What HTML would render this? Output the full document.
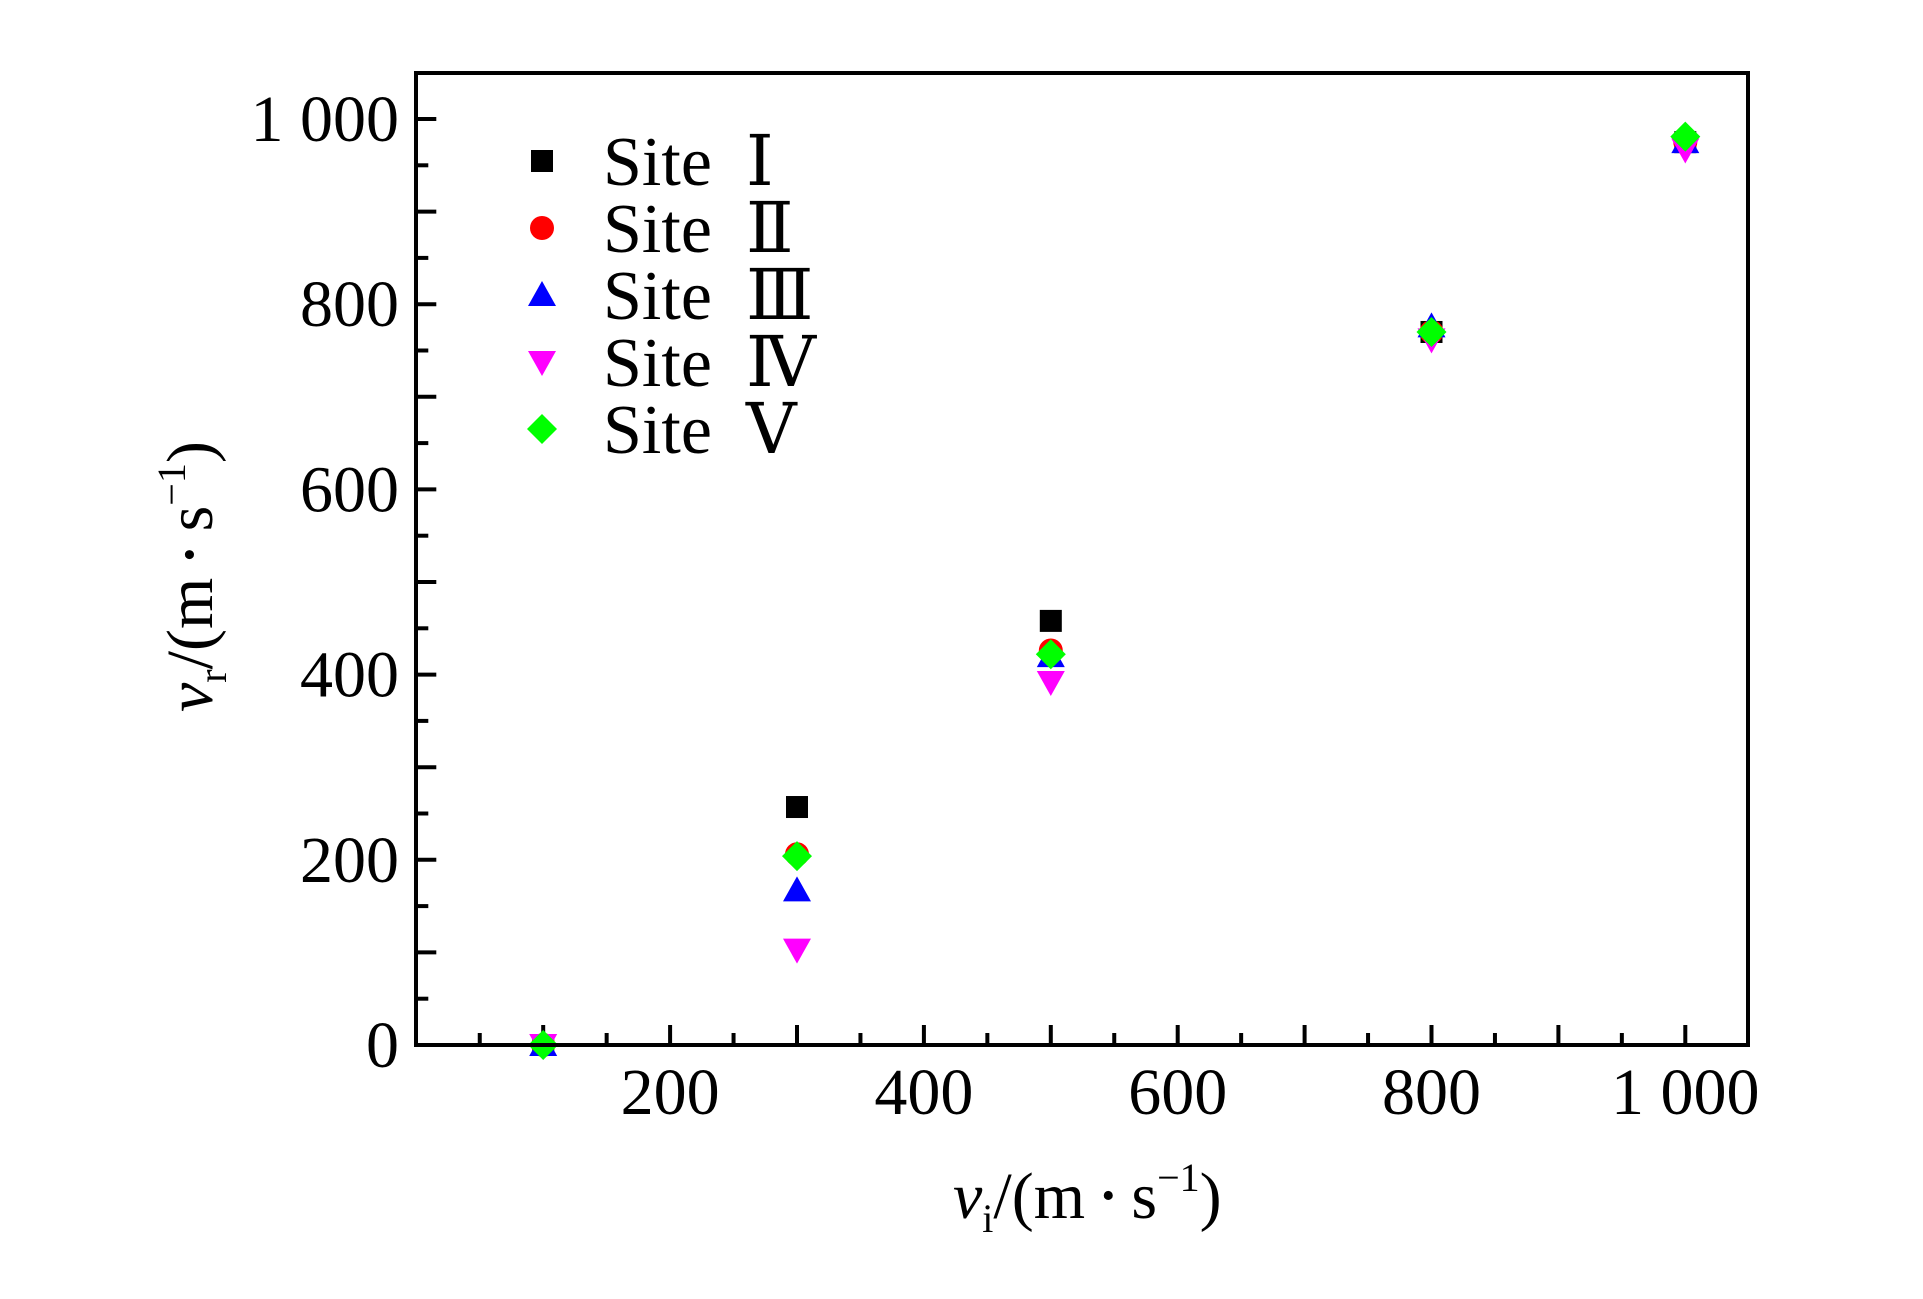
<!DOCTYPE html>
<html><head><meta charset="utf-8"><style>
html,body{margin:0;padding:0;background:#fff;}
svg{display:block;}
text{font-family:"Liberation Serif","DejaVu Serif",serif;fill:#000;}
</style></head><body>
<svg id="chart" width="1923" height="1299" viewBox="0 0 1923 1299" xmlns="http://www.w3.org/2000/svg">
<g id="ticks"></g>
<g id="marks"></g>
<rect x="416" y="73" width="1332" height="972" fill="none" stroke="#000" stroke-width="4"/>
<g id="legend"></g>
<text x="953" y="1218" font-size="66" xml:space="preserve"><tspan font-style="italic">v</tspan><tspan font-size="40" dy="14">i</tspan><tspan dy="-14">/(m </tspan><tspan font-size="38" dy="-10">•</tspan><tspan dy="10"> s</tspan><tspan font-size="40" dy="-27">−1</tspan><tspan dy="27">)</tspan></text>
<text transform="translate(212,712) rotate(-90)" x="0" y="0" font-size="66" xml:space="preserve"><tspan font-style="italic">v</tspan><tspan font-size="40" dy="14">r</tspan><tspan dy="-14">/(m </tspan><tspan font-size="38" dy="-10">•</tspan><tspan dy="10"> s</tspan><tspan font-size="40" dy="-27">−1</tspan><tspan dy="27">)</tspan></text>
</svg>
<script>
const xCategories = [100, 300, 500, 800, 1000];
const siteI = [0, 257, 458, 770, 975];
const siteII = [0, 206, 426, 770, 975];
const siteIII = [0, 167, 420, 776, 975];
const siteIV = [0, 103, 392, 762, 967];
const siteV = [0, 204, 422, 770, 981];
const xTickLabels = ["200", "400", "600", "800", "1 000"];
const yTickLabels = ["0", "200", "400", "600", "800", "1 000"];
const seriesNames = ["Site", "Site", "Site", "Site", "Site"];
const seriesNumerals = ["Ⅰ", "Ⅱ", "Ⅲ", "Ⅳ", "Ⅴ"];

const NS = "http://www.w3.org/2000/svg";
const X0 = 416.3, XS = 1.269, Y0 = 1045, YS = 0.926;
const xs = v => X0 + v * XS;
const ys = v => Y0 - v * YS;
function mk(tag, attrs, parent) {
  const e = document.createElementNS(NS, tag);
  for (const k in attrs) e.setAttribute(k, attrs[k]);
  parent.appendChild(e);
  return e;
}
const ticks = document.getElementById('ticks');
for (let v = 50; v <= 1000; v += 50) {
  const major = v % 100 === 0;
  const len = major ? 20 : 12;
  const t = mk('line', {x1: xs(v), x2: xs(v), y1: Y0, y2: Y0 - len, stroke: '#000', 'stroke-width': 4}, ticks);
  
  
  const u = mk('line', {x1: X0, x2: X0 + len, y1: ys(v), y2: ys(v), stroke: '#000', 'stroke-width': 4}, ticks);
  
  
}
xTickLabels.forEach((lab, i) => {
  const v = 200 * (i + 1);
  const t = mk('text', {x: xs(v), y: 1114, 'font-size': 66, 'text-anchor': 'middle'}, ticks);
  t.setAttribute('xml:space', 'preserve');
  t.textContent = lab;
  
  
});
yTickLabels.forEach((lab, i) => {
  const v = 200 * i;
  const t = mk('text', {x: 399, y: ys(v) + 22, 'font-size': 66, 'text-anchor': 'end'}, ticks);
  t.setAttribute('xml:space', 'preserve');
  t.textContent = lab;
  
  
});

function marker(shape, cx, cy, parent) {
  let e;
  if (shape === 0) e = mk('rect', {x: cx - 11, y: cy - 11, width: 22, height: 22, fill: '#000'}, parent);
  else if (shape === 1) e = mk('circle', {cx: cx, cy: cy, r: 12, fill: '#ff0000'}, parent);
  else if (shape === 2) e = mk('polygon', {points: `${cx},${cy-14} ${cx+14},${cy+11} ${cx-14},${cy+11}`, fill: '#0000ff'}, parent);
  else if (shape === 3) e = mk('polygon', {points: `${cx},${cy+14} ${cx+14},${cy-11} ${cx-14},${cy-11}`, fill: '#ff00ff'}, parent);
  else e = mk('polygon', {points: `${cx},${cy-15} ${cx+15},${cy} ${cx},${cy+15} ${cx-15},${cy}`, fill: '#00ff00'}, parent);
  return e;
}
const marks = document.getElementById('marks');
const allSeries = [siteI, siteII, siteIII, siteIV, siteV];
allSeries.forEach((s, si) => {
  s.forEach((v, i) => {
    const m = marker(si, xs(xCategories[i]), ys(v), marks);
    
    
  });
});
const legend = document.getElementById('legend');
seriesNames.forEach((name, i) => {
  const cy = 161 + i * 67;
  const m = marker(i, 542, cy, legend);
  
  
  const t = mk('text', {x: 603, y: cy + 24, 'font-size': 70}, legend);
  t.textContent = name;
  
  
  const n = mk('text', {x: 746, y: cy + 24, 'font-size': 70}, legend);
  n.textContent = seriesNumerals[i];
  
  
});
</script>
</body></html>
